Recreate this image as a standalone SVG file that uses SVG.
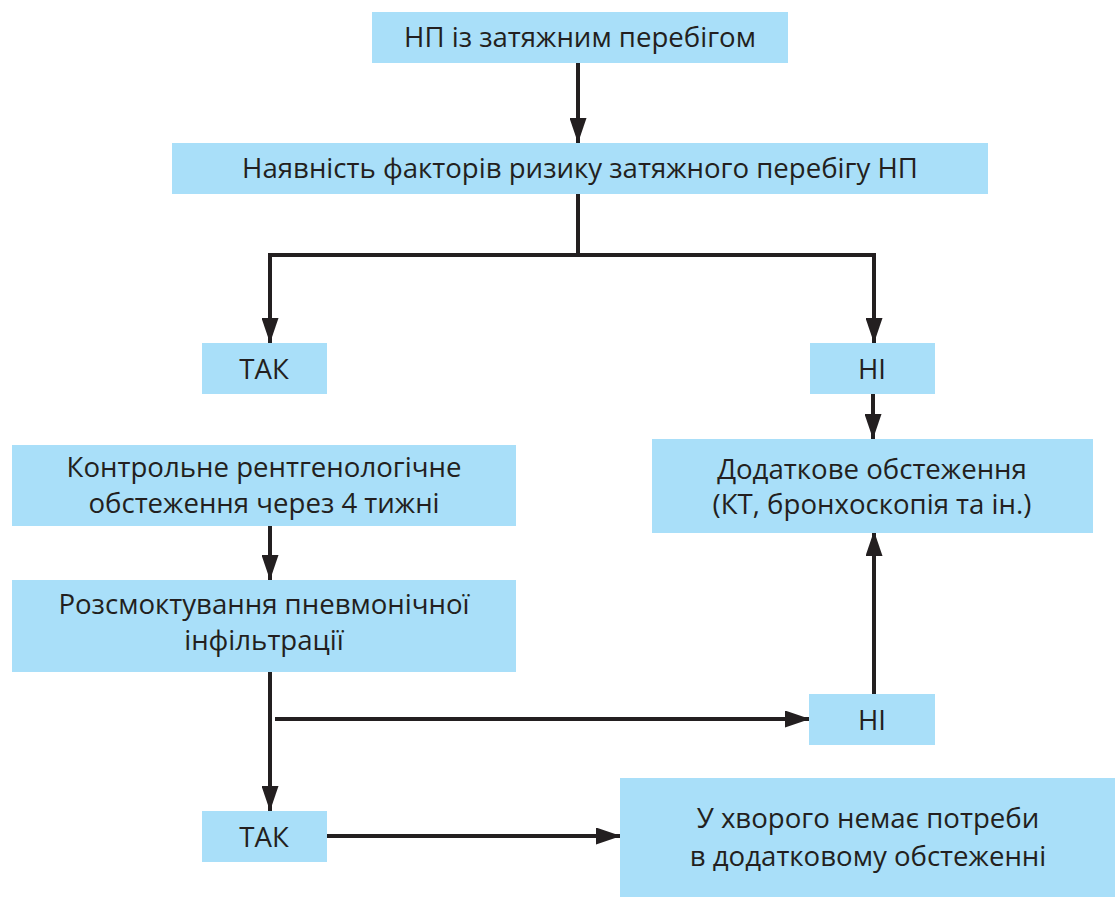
<svg xmlns="http://www.w3.org/2000/svg" width="1115" height="897" viewBox="0 0 1115 897">
<style>
.box{fill:#a9dff9}
.t{font-family:"Open Sans","Noto Sans","Liberation Sans",sans-serif;font-size:27.6px;fill:#231f20;text-anchor:middle}
.c{stroke:#231f20;stroke-width:4;fill:none}
</style>
<defs>
<marker id="ah" viewBox="0 0 25 17" refX="25" refY="8.5" markerWidth="25" markerHeight="17" markerUnits="userSpaceOnUse" orient="auto">
<path d="M0,0 L25,8.5 L0,17 Z" fill="#231f20"/>
</marker>
</defs>
<rect width="1115" height="897" fill="#fff"/>
<g id="connectors">
<line class="c" x1="578" y1="62" x2="578" y2="143" marker-end="url(#ah)"/>
<polyline class="c" points="578,193 578,255"/>
<polyline class="c" points="270,255 874,255 874,343" marker-end="url(#ah)"/>
<line class="c" x1="270" y1="253" x2="270" y2="343" marker-end="url(#ah)"/>
<line class="c" x1="873" y1="393" x2="873" y2="439" marker-end="url(#ah)"/>
<line class="c" x1="270" y1="526" x2="270" y2="580" marker-end="url(#ah)"/>
<line class="c" x1="270" y1="672" x2="270" y2="811" marker-end="url(#ah)"/>
<line class="c" x1="275" y1="719" x2="810" y2="719" marker-end="url(#ah)"/>
<line class="c" x1="874" y1="694" x2="874" y2="531" marker-end="url(#ah)"/>
<line class="c" x1="327" y1="836" x2="621" y2="836" marker-end="url(#ah)"/>
</g>
<g id="n1"><rect class="box" x="372" y="12" width="416" height="51"/><text class="t" x="580" y="47">НП із затяжним перебігом</text></g>
<g id="n2"><rect class="box" x="172" y="143" width="816" height="51"/><text class="t" x="580" y="178">Наявність факторів ризику затяжного перебігу НП</text></g>
<g id="n3"><rect class="box" x="202" y="343" width="125" height="51"/><text class="t" x="264" y="379">ТАК</text></g>
<g id="n4"><rect class="box" x="810" y="343" width="125" height="51"/><text class="t" x="872" y="379">НІ</text></g>
<g id="n5"><rect class="box" x="652" y="439" width="441" height="94"/><text class="t" x="872" y="479">Додаткове обстеження</text><text class="t" x="872" y="514">(КТ, бронхоскопія та ін.)</text></g>
<g id="n6"><rect class="box" x="12" y="445" width="504" height="81"/><text class="t" x="264" y="477">Контрольне рентгенологічне</text><text class="t" x="264" y="513">обстеження через 4 тижні</text></g>
<g id="n7"><rect class="box" x="12" y="580" width="504" height="92"/><text class="t" x="264" y="614">Розсмоктування пневмонічної</text><text class="t" x="264" y="650">інфільтрації</text></g>
<g id="n8"><rect class="box" x="809" y="694" width="126" height="51"/><text class="t" x="872" y="730">НІ</text></g>
<g id="n9"><rect class="box" x="202" y="811" width="125" height="51"/><text class="t" x="264" y="847">ТАК</text></g>
<g id="n10"><rect class="box" x="620" y="778" width="495" height="119"/><text class="t" x="868" y="828">У хворого немає потреби</text><text class="t" x="868" y="866">в додатковому обстеженні</text></g>
</svg>
